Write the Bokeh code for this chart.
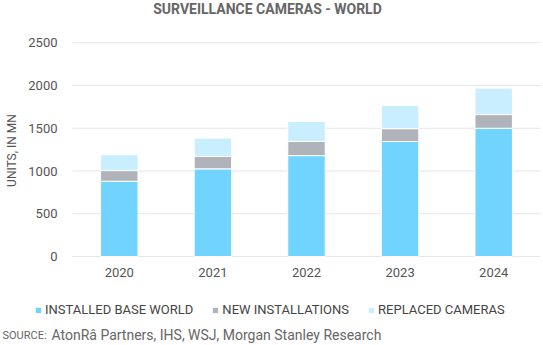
import math
from bokeh.plotting import figure
from bokeh.models import Legend, LegendItem, ColumnDataSource
from bokeh.core.properties import value
from bokeh.embed import file_html
from bokeh.resources import INLINE

# ---- data ----
years = ["2020", "2021", "2022", "2023", "2024"]
installed = [880, 1025, 1180, 1345, 1500]
new_inst = [125, 145, 165, 150, 160]
replaced = [185, 215, 235, 270, 310]
series_names = ["INSTALLED BASE WORLD", "NEW INSTALLATIONS", "REPLACED CAMERAS"]
y_ticks = [0, 500, 1000, 1500, 2000, 2500]
y_tick_labels = ["0", "500", "1000", "1500", "2000", "2500"]
title_text = "SURVEILLANCE CAMERAS - WORLD"
y_title = "UNITS, IN MN"
source_label = "SOURCE:"
source_text = "AtonRâ Partners, IHS, WSJ, Morgan Stanley Research"

# ---- layout (pixel geometry of the canvas) ----
W, H = 543, 345
X0_PX, PX_PER_X = 118.8, 93.6           # canvas x of first category, px per category
Y0_PX, PX_PER_Y = 256.0, 213.75 / 2500  # canvas y of value 0, px per unit

def dx(px):
    return (px - X0_PX) / PX_PER_X

def dy(py):
    return (Y0_PX - py) / PX_PER_Y

colors = ["#70D4FF", "#B0B4BA", "#C8EEFF"]
font = value("Roboto")
txt = "#555555"

p = figure(width=W, height=H, output_backend="svg", toolbar_location=None,
           x_axis_type=None, y_axis_type=None,
           x_range=(dx(0), dx(W)), y_range=(dy(H), dy(0)),
           min_border=0, min_border_left=0, min_border_right=0,
           min_border_top=0, min_border_bottom=0)
p.outline_line_color = None
p.grid.visible = False

idx = list(range(len(years)))
src = ColumnDataSource(dict(idx=idx, installed=installed, new_inst=new_inst, replaced=replaced))

# grid lines
p.segment(x0=[dx(72)] * len(y_ticks), x1=[dx(540)] * len(y_ticks), y0=y_ticks, y1=y_ticks,
          line_color="#e6e6e6", line_width=1)

renderers = p.vbar_stack(["installed", "new_inst", "replaced"], x="idx", width=0.4, source=src,
                         color=colors, line_color="#ffffff", line_width=1)

# y tick labels
p.text(x=[dx(57)] * len(y_ticks), y=y_ticks, text=y_tick_labels, text_font=font,
       text_font_size="13px", text_color=txt, text_align="right", text_baseline="middle")
# x tick labels
p.text(x=idx, y=[dy(272)] * len(idx), text=years, text_font=font,
       text_font_size="13px", text_color=txt, text_align="center", text_baseline="middle")
# y axis title
p.text(x=[dx(11)], y=[dy(150)], text=[y_title], angle=math.pi / 2, text_font=font,
       text_font_size="12px", text_color=txt, text_align="center", text_baseline="middle")
# chart title
p.text(x=[dx(267)], y=[dy(8.5)], text=[title_text], text_font=font, text_font_style="bold",
       text_font_size="14px", text_color="#666666", text_align="center", text_baseline="middle")
# source
p.text(x=[dx(2)], y=[dy(335.3)], text=[source_label], text_font=font, text_font_size="11px",
       text_color="#666666", text_align="left", text_baseline="middle")
p.text(x=[dx(51)], y=[dy(334.3)], text=[source_text], text_font=font, text_font_size="14px",
       text_color="#666666", text_align="left", text_baseline="middle")

legend = Legend(items=[LegendItem(label=n, renderers=[r]) for n, r in zip(series_names, renderers)],
                orientation="horizontal", location=(34, 28),
                label_text_font="Roboto", label_text_font_size="13px", label_text_color="#444444",
                glyph_width=8, glyph_height=8, label_height=14, spacing=18, label_standoff=3,
                border_line_color=None, background_fill_alpha=0, padding=0, margin=0)
p.add_layout(legend, "center")

open("out.html", "w").write(file_html(p, INLINE))
